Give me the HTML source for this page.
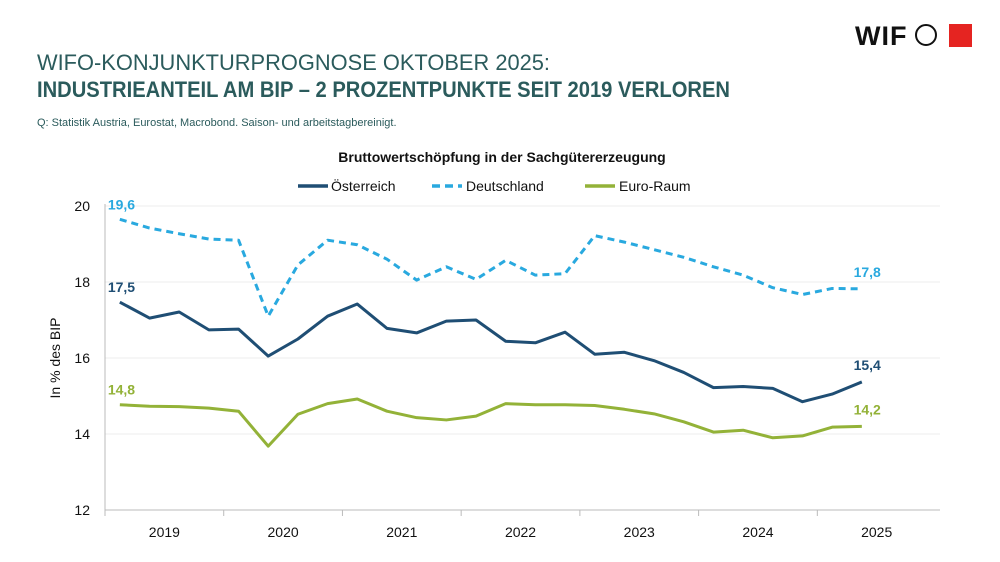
<!DOCTYPE html>
<html><head><meta charset="utf-8">
<style>
body{margin:0;background:#fff;}
svg{display:block;font-family:"Liberation Sans",sans-serif;}
</style></head>
<body>
<svg width="1000" height="562" viewBox="0 0 1000 562">
<text x="37" y="70" font-size="22" fill="#2b5b5c" textLength="513" lengthAdjust="spacingAndGlyphs">WIFO-KONJUNKTURPROGNOSE OKTOBER 2025:</text>
<text x="37" y="97" font-size="22" font-weight="bold" fill="#2b5b5c" textLength="693" lengthAdjust="spacingAndGlyphs">INDUSTRIEANTEIL AM BIP – 2 PROZENTPUNKTE SEIT 2019 VERLOREN</text>
<text x="37" y="126" font-size="11" fill="#2b5b5c">Q: Statistik Austria, Eurostat, Macrobond. Saison- und arbeitstagbereinigt.</text>
<g>
<text x="855" y="45" font-size="27" font-weight="bold" fill="#111" letter-spacing="1">WIF</text>
<circle cx="926" cy="35" r="10" fill="none" stroke="#111" stroke-width="2"/>
<rect x="949" y="24" width="23" height="23" fill="#e52421"/>
</g>
<text x="502" y="162" font-size="14" font-weight="bold" fill="#111" text-anchor="middle">Bruttowertschöpfung in der Sachgütererzeugung</text>
<g>
<line x1="298" y1="186" x2="328" y2="186" stroke="#1f4e74" stroke-width="3.5"/>
<text x="331" y="191" font-size="14" fill="#111">Österreich</text>
<line x1="432" y1="186" x2="462" y2="186" stroke="#29a9df" stroke-width="3.5" stroke-dasharray="8,5"/>
<text x="466" y="191" font-size="14" fill="#111">Deutschland</text>
<line x1="585" y1="186" x2="615" y2="186" stroke="#93b238" stroke-width="3.5"/>
<text x="619" y="191" font-size="14" fill="#111">Euro-Raum</text>
</g>
<text transform="translate(60,358) rotate(-90)" font-size="14" fill="#111" text-anchor="middle">In % des BIP</text>
<g id="plot"></g>
</svg>
<script>
const categories=["2019Q1","2019Q2","2019Q3","2019Q4","2020Q1","2020Q2","2020Q3","2020Q4","2021Q1","2021Q2","2021Q3","2021Q4","2022Q1","2022Q2","2022Q3","2022Q4","2023Q1","2023Q2","2023Q3","2023Q4","2024Q1","2024Q2","2024Q3","2024Q4","2025Q1","2025Q2"];
const oesterreich=[17.47,17.05,17.21,16.74,16.76,16.05,16.5,17.1,17.42,16.78,16.66,16.97,17.0,16.44,16.4,16.68,16.1,16.15,15.93,15.62,15.22,15.25,15.2,14.85,15.05,15.37];
const deutschland=[19.65,19.42,19.27,19.13,19.1,17.1,18.45,19.1,18.98,18.6,18.05,18.4,18.07,18.57,18.18,18.22,19.22,19.05,18.85,18.65,18.4,18.18,17.85,17.67,17.83,17.82];
const euroRaum=[14.77,14.73,14.72,14.68,14.6,13.68,14.52,14.8,14.92,14.6,14.43,14.37,14.47,14.8,14.77,14.77,14.75,14.65,14.53,14.32,14.05,14.1,13.9,13.95,14.18,14.2];
const yTicks=[12,14,16,18,20];
const yearLabels=["2019","2020","2021","2022","2023","2024","2025"];
const startLabels=["19,6","17,5","14,8"];
const endLabels=["17,8","15,4","14,2"];

const NS="http://www.w3.org/2000/svg";
const plot=document.getElementById('plot');
const x0=105,step=29.68,yBase=510,yScale=38,yMin=12;
const X=i=>x0+step*(i+0.5);
const Y=v=>yBase-(v-yMin)*yScale;
function mk(tag,attrs,parent){const e=document.createElementNS(NS,tag);for(const k in attrs)e.setAttribute(k,attrs[k]);(parent||plot).appendChild(e);return e;}

yTicks.forEach(t=>{
  if(t>yMin){const g=mk('line',{x1:x0,x2:940,y1:Y(t),y2:Y(t),stroke:'#ececec','stroke-width':1});
  
  }
  const l=mk('text',{x:90,y:Y(t)+5,'font-size':14,fill:'#111','text-anchor':'end'});
  l.textContent=t;
  
  
});
const ax=mk('line',{x1:x0,x2:x0,y1:Y(20)-2,y2:yBase,stroke:'#bbb','stroke-width':1});


const xa=mk('line',{x1:x0,x2:940,y1:yBase,y2:yBase,stroke:'#bbb','stroke-width':1});


yearLabels.forEach((yl,i)=>{
  const xt=x0+step*4*i;
  const tk=mk('line',{x1:xt,x2:xt,y1:yBase,y2:yBase+6,stroke:'#bbb'});
  
  
  const t=mk('text',{x:xt+step*2,y:yBase+27,'font-size':14,fill:'#111','text-anchor':'middle'});
  t.textContent=yl;
  
  
});
const series=[[deutschland,'#29a9df','7,5','line-deutschland'],[oesterreich,'#1f4e74','','line-oesterreich'],[euroRaum,'#93b238','','line-euro-raum']];
series.forEach(([d,c,dash,name],si)=>{
  const p=mk('polyline',{points:d.map((v,i)=>X(i)+','+Y(v)).join(' '),fill:'none',stroke:c,'stroke-width':3,'stroke-linejoin':'round'});
  if(dash)p.setAttribute('stroke-dasharray',dash);
  
  
  const s=mk('text',{x:X(0)-12,y:Y(d[0])-10,'font-size':14,'font-weight':'bold',fill:c});
  s.textContent=startLabels[si];
  
  
  const n=d.length-1;
  const e=mk('text',{x:X(n)+19,y:Y(d[n])-12,'font-size':14,'font-weight':'bold',fill:c,'text-anchor':'end'});
  e.textContent=endLabels[si];
  
  
});
</script>
</body></html>
